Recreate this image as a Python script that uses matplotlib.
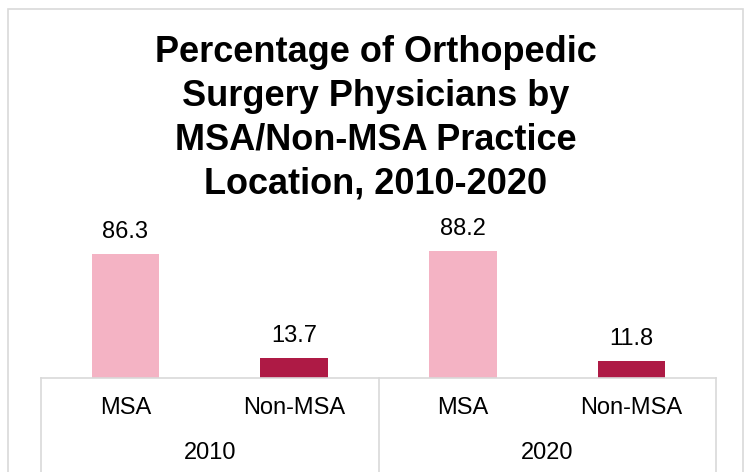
import matplotlib.pyplot as plt
from matplotlib.patches import Rectangle

# data
years = ['2010', '2020']
locations = ['MSA', 'Non-MSA']
values = [86.3, 13.7, 88.2, 11.8]
colors = ['#F4B3C4', '#AE1A45']

plt.rcParams['font.family'] = ['Liberation Sans', 'DejaVu Sans']

W, H = 745, 472
fig = plt.figure(figsize=(W / 100, H / 100), dpi=100)
ax = fig.add_axes([41 / W, (H - 378) / H, (716 - 41) / W, (378 - 234) / H])

x = list(range(len(values)))
bar_colors = [colors[i % 2] for i in x]
ax.bar(x, values, width=0.4, color=bar_colors)
for xi, v in zip(x, values):
    ax.annotate(f'{v:.1f}', (xi, v), xytext=(0, 8), textcoords='offset points',
                ha='center', va='bottom', fontsize=17)

ax.set_xlim(-0.5, len(values) - 0.5)
ax.set_ylim(0, 100)
ax.set_yticks([])
for s in ['top', 'left', 'right']:
    ax.spines[s].set_visible(False)
ax.spines['bottom'].set_color('#D9D9D9')
ax.spines['bottom'].set_linewidth(1.2)

ax.set_xticks(x)
ax.set_xticklabels(locations * len(years), fontsize=17)
ax.tick_params(axis='x', length=0, pad=14)

trans = ax.get_xaxis_transform()
for i in range(len(years) + 1):
    xs = i * 2 - 0.5
    ax.plot([xs, xs], [0, -1], color='#D9D9D9', lw=1.2, transform=trans, clip_on=False)
for i, yr in enumerate(years):
    ax.text(i * 2 + 0.5, -0.52, yr, ha='center', va='center', fontsize=17, transform=trans)

fig.text(376 / W, 1 - 118 / H,
         'Percentage of Orthopedic\nSurgery Physicians by\nMSA/Non-MSA Practice\nLocation, 2010-2020',
         ha='center', va='center', fontsize=26, fontweight='bold', linespacing=1.33)

fig.patches.append(Rectangle((8 / W, -0.1), (743 - 8) / W, (H - 9) / H + 0.1,
                             transform=fig.transFigure, fill=False,
                             edgecolor='#D9D9D9', lw=1.2))

fig.savefig('out.png', dpi=100)
